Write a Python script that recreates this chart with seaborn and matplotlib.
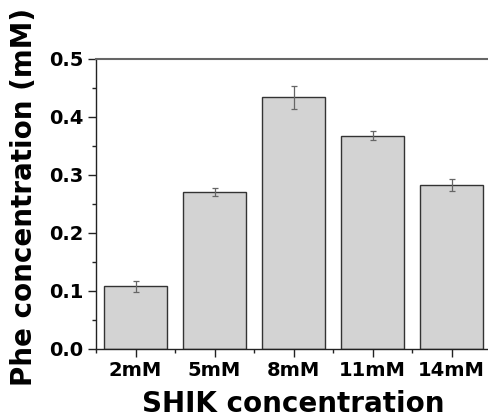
import numpy as np
import pandas as pd
import matplotlib
matplotlib.use('Agg')
import matplotlib.pyplot as plt
import seaborn as sns

# SHIK dose vs Phe produced
shik = ['2mM', '5mM', '8mM', '11mM', '14mM']
phe = [0.108, 0.271, 0.434, 0.368, 0.283]
phe_err = [0.009, 0.007, 0.020, 0.008, 0.010]

df = pd.DataFrame({'SHIK': shik, 'Phe': phe})

sns.set_style('ticks')
plt.rcParams['font.family'] = ['DejaVu Sans']
plt.rcParams['font.weight'] = 'bold'
plt.rcParams['text.color'] = 'black'
plt.rcParams['axes.labelcolor'] = 'black'
plt.rcParams['xtick.labelcolor'] = 'black'
plt.rcParams['ytick.labelcolor'] = 'black'

fig = plt.figure(figsize=(4.89, 4.17), dpi=100)
ax = fig.add_axes([96/489, 68/417, 395/489, 290/417])

sns.barplot(x='SHIK', y='Phe', data=df, color='#d3d3d3', saturation=1,
            edgecolor='#333333', linewidth=1.0, width=0.8, ax=ax)
ax.errorbar(np.arange(len(shik)), phe, yerr=phe_err, fmt='none',
            ecolor='#666666', elinewidth=0.9, capsize=2.5, capthick=0.9)

ax.set_xlim(-0.5, len(shik) - 0.5)
ax.set_ylim(0, 0.5)
ax.set_yticks(np.arange(0, 0.51, 0.1))
ax.set_yticklabels(['%.1f' % v for v in np.arange(0, 0.51, 0.1)])
ax.set_yticks(np.arange(0.05, 0.5, 0.1), minor=True)
ax.set_xticks(np.arange(-0.5, len(shik), 1.0), minor=True)

ax.tick_params(axis='both', which='major', direction='out', length=6, width=1,
               labelsize=14, color='#222222', labelcolor='black', pad=3)
ax.tick_params(axis='both', which='minor', direction='out', length=3, width=1,
               color='#222222')
for lab in ax.get_xticklabels() + ax.get_yticklabels():
    lab.set_fontweight('bold')

ax.spines['right'].set_visible(False)
ax.spines['top'].set_color('#666666')
ax.spines['top'].set_linewidth(1.5)
for s in ['left', 'bottom']:
    ax.spines[s].set_color('#222222')
    ax.spines[s].set_linewidth(1.0)

ax.set_xlabel('SHIK concentration', fontsize=20, fontweight='bold',
              color='black', labelpad=7)
ax.set_ylabel('Phe concentration (mM)', fontsize=20, fontweight='bold',
              color='black')
ax.yaxis.set_label_coords(-0.148, 0.525)

fig.savefig('out.png', dpi=100)
